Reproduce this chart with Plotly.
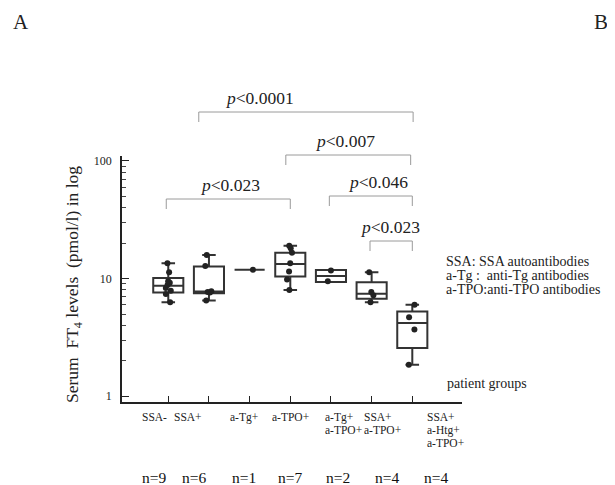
import plotly.graph_objects as go

# ---------------- data ----------------
group_labels = ["SSA-", "SSA+", "a-Tg+", "a-TPO+", "a-Tg+<br>a-TPO+",
                "SSA+<br>a-TPO+", "SSA+<br>a-Htg+<br>a-TPO+"]
n_labels = ["n=9", "n=6", "n=1", "n=7", "n=2", "n=4", "n=4"]

pts_ssa_neg = [13.5, 11.3, 9.5, 9.2, 8.8, 8.3, 7.9, 7.4, 6.3]
pts_ssa_pos = [15.9, 12.8, 7.8, 7.7, 7.6, 6.5]
pts_tg = [11.9]
pts_tpo = [19.0, 18.1, 16.6, 13.5, 11.5, 9.8, 8.0]
pts_tg_tpo = [11.7, 9.5]
pts_ssa_tpo = [11.3, 7.7, 7.2, 6.3]
pts_ssa_htg_tpo = [6.0, 4.7, 3.7, 1.85]

q1 = [7.6, 7.5, 11.9, 10.4, 9.35, 6.75, 2.57]
median = [8.7, 7.75, 11.9, 13.3, 10.5, 7.45, 4.2]
q3 = [10.1, 12.7, 11.9, 16.6, 11.85, 9.3, 5.25]
lowerfence = [6.3, 6.5, 11.9, 8.0, 9.35, 6.3, 1.85]
upperfence = [13.5, 15.9, 11.9, 19.0, 11.85, 11.3, 6.0]

# significance brackets: (from group, to group, label)
brackets = [(1, 6, "p<0.0001"), (3, 6, "p<0.007"), (0, 3, "p<0.023"),
            (4, 6, "p<0.046"), (5, 6, "p<0.023")]

y_tick_vals = [1, 10, 100]
y_tick_text = ["1", "10", "100"]

legend_lines = ["SSA: SSA autoantibodies", "a-Tg :  anti-Tg antibodies",
                "a-TPO:anti-TPO antibodies"]

# ---------------- layout helpers ----------------
W, H = 615, 485
OFF = 8  # page body margin: the figure is drawn 8 px from the top-left
PLOT_L, PLOT_R, PLOT_T, PLOT_B = 122, 462, 156, 402  # in screen pixels
ML = PLOT_L - OFF
MT = PLOT_T - OFF
MR = W - (PLOT_R - OFF)
MB = H - (PLOT_B - OFF)
PW, PH = PLOT_R - PLOT_L, PLOT_B - PLOT_T
FONT = "Liberation Serif"
TXT = "#222222"


def px_x(p):
    return (p - PLOT_L) / PW


def px_y(p):
    return (PLOT_B - p) / PH


points = [pts_ssa_neg, pts_ssa_pos, pts_tg, pts_tpo, pts_tg_tpo,
          pts_ssa_tpo, pts_ssa_htg_tpo]
xs = list(range(len(group_labels)))

fig = go.Figure()
fig.add_trace(go.Box(
    x=xs, q1=q1, median=median, q3=q3,
    lowerfence=lowerfence, upperfence=upperfence,
    y=points, boxpoints="all", jitter=0.25, pointpos=0,
    width=0.74, whiskerwidth=0.45,
    line=dict(color="#333333", width=2),
    fillcolor="rgba(255,255,255,0)",
    marker=dict(color="#222222", size=6),
    showlegend=False, hoverinfo="skip",
))

annotations = []
shapes = []

# category labels (left aligned blocks) and n labels
label_shift = [-28, -37, -22, -20, -8, -10, 13]
n_shift = [-14, -15, -6, 0, 7, 15, 24]
for i, lab in enumerate(group_labels):
    for k, line in enumerate(lab.split("<br>")):
        annotations.append(dict(
            x=xs[i], xref="x", xshift=label_shift[i], xanchor="left",
            y=px_y(417 + 13 * k), yref="paper", yanchor="middle",
            text=line, showarrow=False,
            font=dict(family=FONT, size=11.5, color=TXT)))
    annotations.append(dict(
        x=xs[i], xref="x", xshift=n_shift[i], xanchor="center",
        y=px_y(477), yref="paper", yanchor="middle",
        text=n_labels[i], showarrow=False,
        font=dict(family=FONT, size=15.5, color="#111111")))

# brackets
bracket_y = [112, 155, 199, 196, 241]
bracket_leg = 10
bracket_dx = [(-0.25, 0.02), (-0.11, -0.04), (-0.05, 0.0), (-0.04, 0.0), (-0.04, 0.0)]
text_dx = [-46, -3, 2, 7, -1]
for b, (i, j, lab) in enumerate(brackets):
    x0 = xs[i] + bracket_dx[b][0]
    x1 = xs[j] + bracket_dx[b][1]
    yb = px_y(bracket_y[b])
    yl = px_y(bracket_y[b] + bracket_leg)
    for (ax0, ay0, ax1, ay1) in [(x0, yl, x0, yb), (x0, yb, x1, yb), (x1, yb, x1, yl)]:
        shapes.append(dict(type="line", xref="x", yref="paper",
                           x0=ax0, y0=ay0, x1=ax1, y1=ay1,
                           line=dict(color="#9a9a9a", width=1)))
    annotations.append(dict(
        x=(x0 + x1) / 2, xref="x", xshift=text_dx[b], xanchor="center",
        y=px_y(bracket_y[b] - 14), yref="paper", yanchor="middle",
        text="<i>p</i>" + lab[1:], showarrow=False,
        font=dict(family=FONT, size=17.5, color=TXT)))

# notes on the right
for k, line in enumerate(legend_lines):
    annotations.append(dict(
        x=px_x(444), xref="paper", xanchor="left",
        y=px_y(261 + 14.3 * k), yref="paper", yanchor="middle",
        text=line, showarrow=False,
        font=dict(family=FONT, size=14, color=TXT)))
annotations.append(dict(
    x=px_x(445), xref="paper", xanchor="left",
    y=px_y(383), yref="paper", yanchor="middle",
    text="patient groups", showarrow=False,
    font=dict(family=FONT, size=14, color=TXT)))

# y axis title
annotations.append(dict(
    x=px_x(73), xref="paper", xanchor="center",
    y=px_y(285), yref="paper", yanchor="middle",
    text="Serum  FT<sub>4</sub> levels  (pmol/l) in log", textangle=-90,
    showarrow=False, font=dict(family=FONT, size=17.5, color=TXT)))

# panel letters
annotations.append(dict(x=px_x(21), xref="paper", xanchor="center",
                        y=px_y(22), yref="paper", yanchor="middle",
                        text="A", showarrow=False,
                        font=dict(family=FONT, size=21, color=TXT)))
annotations.append(dict(x=px_x(601), xref="paper", xanchor="center",
                        y=px_y(22), yref="paper", yanchor="middle",
                        text="B", showarrow=False,
                        font=dict(family=FONT, size=21, color=TXT)))

minor_vals = [v * d for d in (1, 10) for v in range(2, 10)]

fig.update_layout(
    width=W, height=H,
    margin=dict(l=ML, r=MR, t=MT, b=MB),
    paper_bgcolor="white", plot_bgcolor="white",
    showlegend=False,
    xaxis=dict(range=[-1.138, 7.222], tickvals=xs, showticklabels=False,
               ticks="inside", ticklen=6, tickcolor="#222", tickwidth=1.2,
               showline=True, linecolor="#222", linewidth=1.5,
               showgrid=False, zeroline=False),
    yaxis=dict(type="log", range=[-0.049, 2.042],
               tickvals=y_tick_vals, ticktext=y_tick_text,
               ticks="inside", ticklen=7, tickcolor="#222", tickwidth=1.2,
               ticklabelstandoff=6,
               minor=dict(tickvals=minor_vals, ticks="inside", ticklen=4,
                          tickcolor="#444", showgrid=False),
               tickfont=dict(family=FONT, size=12, color=TXT),
               showline=True, linecolor="#222", linewidth=1.5,
               showgrid=False, zeroline=False),
    annotations=annotations, shapes=shapes,
)

fig.write_html("out.html")
